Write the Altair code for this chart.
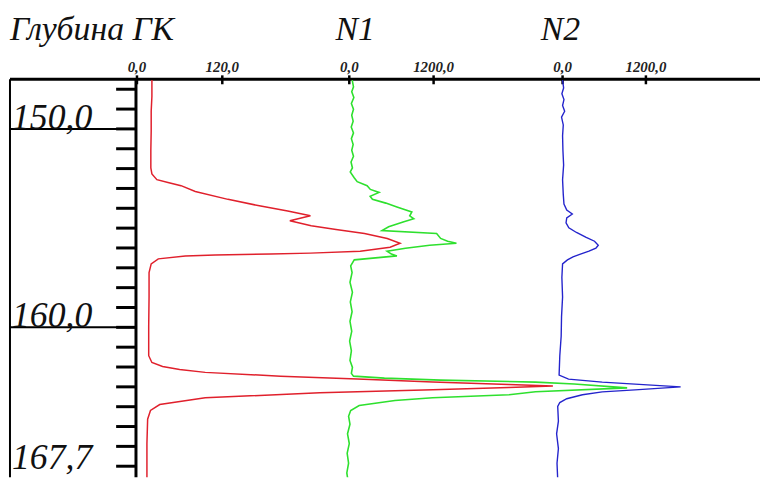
import altair as alt
import pandas as pd

# ---- data (depth in m, log values) ----
gk_depth = [147.54, 148.37, 149.11, 150.10, 151.08, 151.97, 152.27, 152.56, 152.71, 152.86,
            153.15, 153.55, 153.89, 154.14, 154.38, 154.63, 154.88, 155.07, 155.27, 155.52,
            155.76, 155.96, 156.16, 156.26, 156.31, 156.35, 156.40, 156.55, 156.80, 157.24,
            158.47, 159.95, 161.43, 161.77, 161.97, 162.12, 162.27, 162.46, 162.61, 162.76,
            162.88, 162.96, 163.03, 163.15, 163.30, 163.55, 163.89, 164.19, 164.63, 165.86,
            166.85, 167.68]
gk_value = [21, 21, 20, 20, 19.5, 19.5, 21, 28, 45, 62,
            82, 128, 174, 212, 244, 215, 245, 280, 320, 352,
            370, 356, 314, 244, 188, 110, 68, 30, 20, 17,
            17, 16.5, 16.5, 21, 36, 60, 96, 202, 310, 416,
            523, 585, 523, 416, 257, 96, 32, 19, 15, 14,
            14, 14]

n1_depth = [147.54, 147.88, 148.13, 148.42, 148.72, 149.01, 149.31, 149.61, 149.90, 150.20,
            150.49, 150.79, 151.08, 151.38, 151.67, 151.97, 152.17, 152.46, 152.66, 152.86,
            153.05, 153.20, 153.40, 153.55, 153.74, 153.94, 154.19, 154.38, 154.53, 154.68,
            154.93, 155.12, 155.27, 155.52, 155.66, 155.76, 155.86, 156.01, 156.16, 156.31,
            156.40, 156.60, 156.90, 157.24, 157.73, 158.23, 158.72, 159.21, 159.70, 160.20,
            160.69, 161.18, 161.67, 162.02, 162.32, 162.46, 162.56, 162.66, 162.76, 162.86,
            163.05, 163.25, 163.40, 163.55, 163.69, 163.94, 164.19, 164.48, 164.88, 165.37,
            165.86, 166.35, 166.85, 167.34, 167.68]
n1_value = [42, 60, 35, 65, 30, 60, 35, 55, 28, 60,
            30, 55, 35, 60, 25, 45, 14, 70, 113, 254,
            300, 424, 297, 330, 520, 678, 890, 860, 918, 777,
            560, 466, 1243, 1300, 1400, 1525, 1144, 800, 537, 600,
            678, 71, 20, 40, 10, 45, 15, 40, 10, 35,
            5, 30, 10, 45, 30, 60, 500, 1300, 2650, 3200,
            3954, 2650, 2273, 1186, 650, 141, 20, -10, 10, -25,
            0, -30, -10, -35, -20]

n2_depth = [147.54, 147.93, 148.23, 148.52, 148.82, 149.11, 149.41, 149.80, 150.34, 151.08,
            151.82, 152.56, 153.30, 153.79, 154.09, 154.29, 154.48, 154.73, 154.98, 155.22,
            155.47, 155.66, 155.86, 156.01, 156.16, 156.31, 156.45, 156.60, 156.80, 157.49,
            158.47, 159.46, 160.44, 161.43, 162.41, 162.61, 162.76, 162.86, 163.00, 163.15,
            163.25, 163.40, 163.60, 163.79, 163.99, 164.73, 165.37, 166.11, 166.85, 167.68]
n2_value = [0, 15, -10, 20, 0, 30, -15, 10, 0, 5,
            15, 0, 10, 20, 60, 140, 60, 50, 90, 200,
            340, 460, 514, 480, 380, 257, 150, 70, 0, -10,
            0, -15, -20, -40, -50, 86, 571, 1043, 1700, 1043,
            571, 286, 60, -40, -70, -60, -86, -60, -80, -70]

depth_label_pos = [150.0, 160.0]
depth_label_txt = ["150,0", "160,0"]
bottom_label = "167,7"
depth_grid = [150.0, 160.0]
depth_ticks = [148, 149, 150, 151, 152, 153, 154, 155, 156, 157,
               158, 159, 160, 161, 162, 163, 164, 165, 166, 167]
gk_ticks = [0.0, 120.0]
gk_tick_txt = ["0,0", "120,0"]
n_ticks = [0.0, 1200.0]
n_tick_txt = ["0,0", "1200,0"]
track_titles = ["Глубина ГК", "N1", "N2"]

W, H = 758, 471
SERIF = "Liberation Serif"

ysc = alt.Scale(domain=[147.5, 167.55], range=[70, 471], nice=False, zero=False)
gk_sc = alt.Scale(domain=[0, 120], range=[130, 216], nice=False, zero=False)
n1_sc = alt.Scale(domain=[0, 1200], range=[344, 429], nice=False, zero=False)
n2_sc = alt.Scale(domain=[0, 1200], range=[559, 643], nice=False, zero=False)


def curve(depth, values, sc, color, width):
    df = pd.DataFrame({"d": depth, "v": values, "i": list(range(len(depth)))})
    return alt.Chart(df).mark_line(color=color, strokeWidth=width, clip=True).encode(
        x=alt.X("v:Q", scale=sc, axis=None),
        y=alt.Y("d:Q", scale=ysc, axis=None),
        order=alt.Order("i:Q"),
    )


def scale_marks(vals, txt, sc):
    df = pd.DataFrame({"v": vals, "t": txt})
    ticks = alt.Chart(df).mark_rule(color="black", strokeWidth=2.5).encode(
        x=alt.X("v:Q", scale=sc, axis=None), y=alt.value(66), y2=alt.value(75))
    labels = alt.Chart(df).mark_text(font=SERIF, fontStyle="italic", fontWeight="bold",
                                     fontSize=15, align="center", baseline="alphabetic",
                                     color="#222").encode(
        x=alt.X("v:Q", scale=sc, axis=None), y=alt.value(63), text="t:N")
    return [ticks, labels]


one = pd.DataFrame({"k": [0]})


def hrule(x1, x2, y, w):
    return alt.Chart(one).mark_rule(color="black", strokeWidth=w).encode(
        x=alt.value(x1), x2=alt.value(x2), y=alt.value(y))


def vrule(x, y1, y2, w):
    return alt.Chart(one).mark_rule(color="black", strokeWidth=w).encode(
        x=alt.value(x), y=alt.value(y1), y2=alt.value(y2))


def text_at(txt, x, y, size):
    return alt.Chart(pd.DataFrame({"t": [txt]})).mark_text(
        font=SERIF, fontStyle="italic", fontSize=size, align="left", baseline="alphabetic",
        color="#111").encode(x=alt.value(x), y=alt.value(y), text="t:N")


layers = []
layers.append(text_at(track_titles[0], 2, 30, 34))
layers.append(text_at(track_titles[1], 330, 30, 34))
layers.append(text_at(track_titles[2], 537, 30, 34))

# frame lines
layers.append(vrule(2, 70, H, 2))
layers.append(vrule(129, 70, H, 3))
layers.append(hrule(2, W, 70, 3))

grid_df = pd.DataFrame({"d": depth_grid})
layers.append(alt.Chart(grid_df).mark_rule(color="black", strokeWidth=2).encode(
    y=alt.Y("d:Q", scale=ysc, axis=None), x=alt.value(2), x2=alt.value(129)))

tick_df = pd.DataFrame({"d": depth_ticks})
layers.append(alt.Chart(tick_df).mark_rule(color="black", strokeWidth=3).encode(
    y=alt.Y("d:Q", scale=ysc, axis=None), x=alt.value(109), x2=alt.value(129)))

lab_df = pd.DataFrame({"d": depth_label_pos, "t": depth_label_txt})
layers.append(alt.Chart(lab_df).mark_text(
    font=SERIF, fontStyle="italic", fontSize=36, align="left", baseline="alphabetic",
    color="#111").encode(y=alt.Y("d:Q", scale=ysc, axis=None), x=alt.value(4), text="t:N"))
layers.append(text_at(bottom_label, 4, H - 8, 36))

layers += scale_marks(gk_ticks, gk_tick_txt, gk_sc)
layers += scale_marks(n_ticks, n_tick_txt, n1_sc)
layers += scale_marks(n_ticks, n_tick_txt, n2_sc)

layers.append(curve(gk_depth, gk_value, gk_sc, "#e0202c", 1.5))
layers.append(curve(n1_depth, n1_value, n1_sc, "#2ee02e", 1.6))
layers.append(curve(n2_depth, n2_value, n2_sc, "#2424cc", 1.4))

chart = alt.layer(*layers).resolve_scale(x="independent").properties(
    width=W, height=H, autosize=alt.AutoSizeParams(type="none"), padding=0,
    background="white"
).configure_view(stroke=None)

chart.save("out.html", embed_options={"renderer": "svg", "actions": False})
